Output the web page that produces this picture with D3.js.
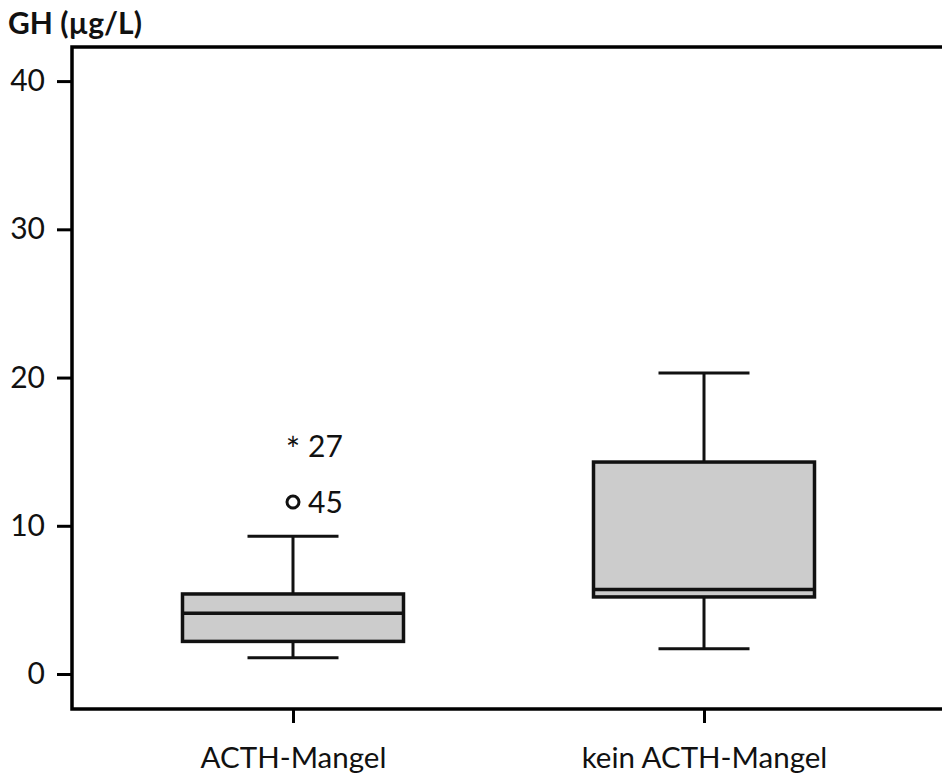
<!DOCTYPE html>
<html><head><meta charset="utf-8">
<script src="https://cdn.jsdelivr.net/npm/d3@7"></script>
<style>html,body{margin:0;padding:0;background:#fff;overflow:hidden}</style>
</head><body>
<svg id="c" width="942" height="778"></svg>
<script>
const categories = ["ACTH-Mangel", "kein ACTH-Mangel"];
const whiskerLow = [1.1, 1.7];
const q1 = [2.2, 5.2];
const median = [4.1, 5.7];
const q3 = [5.4, 14.3];
const whiskerHigh = [9.3, 20.3];
const outlierGroup = ["ACTH-Mangel", "ACTH-Mangel"];
const outlierValue = [11.6, 15.4];
const outlierType = ["circle", "star"];
const outlierLabel = ["45", "27"];
const yTicks = [0, 10, 20, 30, 40];
const yTitle = "GH (µg/L)";

(function(){
const svg = d3.select("#c");
const font = "Lato, 'Open Sans', sans-serif";
const mLeft = 72, mTop = 47, mBottom = 709, rightFrame = 980;
const y = d3.scaleLinear().domain([-2.36, 42.3]).range([mBottom, mTop]);
const x = d3.scalePoint().domain(categories).range([72, 925]).padding(0.5377);
const boxW = 221, capW = 91;

const data = categories.map((c, i) => ({c, lo: whiskerLow[i], q1: q1[i], med: median[i], q3: q3[i], hi: whiskerHigh[i]}));
const g = svg.append("g");
data.forEach(d => {
  const cx = x(d.c);
  g.append("line").attr("x1", cx).attr("x2", cx).attr("y1", y(d.q3)).attr("y2", y(d.hi)).attr("stroke", "#111").attr("stroke-width", 3);
  g.append("line").attr("x1", cx).attr("x2", cx).attr("y1", y(d.lo)).attr("y2", y(d.q1)).attr("stroke", "#111").attr("stroke-width", 3);
  g.append("line").attr("x1", cx - capW/2).attr("x2", cx + capW/2).attr("y1", y(d.hi)).attr("y2", y(d.hi)).attr("stroke", "#111").attr("stroke-width", 3);
  g.append("line").attr("x1", cx - capW/2).attr("x2", cx + capW/2).attr("y1", y(d.lo)).attr("y2", y(d.lo)).attr("stroke", "#111").attr("stroke-width", 3);
  g.append("rect").attr("x", cx - boxW/2).attr("width", boxW).attr("y", y(d.q3)).attr("height", y(d.q1) - y(d.q3))
    .attr("fill", "#cccccc").attr("stroke", "#111").attr("stroke-width", 3.5);
  g.append("line").attr("x1", cx - boxW/2).attr("x2", cx + boxW/2).attr("y1", y(d.med)).attr("y2", y(d.med)).attr("stroke", "#111").attr("stroke-width", 3.5);
});

outlierValue.forEach((v, i) => {
  const cx = x(outlierGroup[i]), cy = y(v);
  if (outlierType[i] === "circle") {
    svg.append("circle").attr("cx", cx).attr("cy", cy).attr("r", 6).attr("fill", "none").attr("stroke", "#111").attr("stroke-width", 3);
  } else {
    svg.append("text").attr("x", cx).attr("y", cy + 16).attr("text-anchor", "middle").attr("font-family", font).attr("font-size", 34).attr("fill", "#111").text("*");
  }
  svg.append("text").attr("x", cx + 15).attr("y", cy + 11).attr("font-family", font).attr("font-size", 30).attr("fill", "#111").text(outlierLabel[i]);
});

svg.append("rect").attr("x", mLeft).attr("y", mTop).attr("width", rightFrame - mLeft).attr("height", mBottom - mTop)
  .attr("fill", "none").attr("stroke", "#000").attr("stroke-width", 3.5);

const ya = svg.append("g").attr("transform", `translate(${mLeft},0)`)
  .call(d3.axisLeft(y).tickValues(yTicks).tickSize(15).tickPadding(12).tickFormat(d3.format("d")));
ya.select(".domain").remove();
ya.selectAll(".tick line").attr("stroke", "#000").attr("stroke-width", 3);
ya.selectAll(".tick text").attr("font-family", font).attr("font-size", 30).attr("fill", "#111");

const xa = svg.append("g").attr("transform", `translate(0,${mBottom})`)
  .call(d3.axisBottom(x).tickSize(14).tickPadding(24));
xa.select(".domain").remove();
xa.selectAll(".tick line").attr("stroke", "#000").attr("stroke-width", 3);
xa.selectAll(".tick text").attr("font-family", font).attr("font-size", 29.5).attr("fill", "#111");

svg.append("text").attr("x", 8).attr("y", 34).attr("font-family", font).attr("font-weight", "bold").attr("font-size", 30).attr("fill", "#111").text(yTitle);
})();
</script>
</body></html>
